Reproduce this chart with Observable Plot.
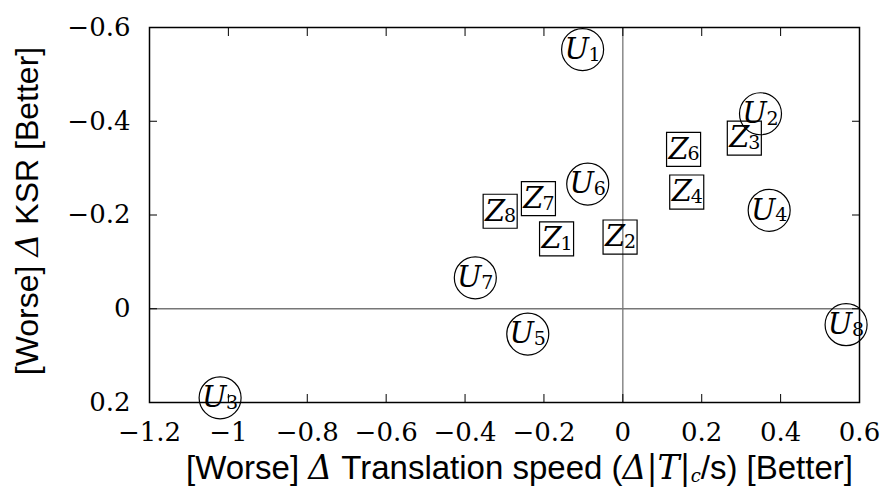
<!DOCTYPE html>
<html>
<head>
<meta charset="utf-8">
<script src="https://cdn.jsdelivr.net/npm/d3@7"></script>
<script src="https://cdn.jsdelivr.net/npm/@observablehq/plot@0.6"></script>
<style>
  html, body { margin: 0; padding: 0; background: #fff; }
  svg { display: block; }
  g[aria-label="x-axis tick label"] text,
  g[aria-label="y-axis tick label"] text {
    font-family: "DejaVu Serif", serif;
    font-size: 26px;
    fill: #000;
  }
</style>
</head>
<body>
<div id="chart"></div>
<script>
// Circled user samples U_i: change in translation speed (x) and change in KSR (y)
const uIndex = [1, 2, 3, 4, 5, 6, 7, 8];
const uSpeed = [-0.102, 0.349, -1.021, 0.371, -0.241, -0.089, -0.374, 0.566];
const uKsr   = [-0.553, -0.416, 0.190, -0.210, 0.054, -0.266, -0.066, 0.034];

// Boxed samples Z_i
const zIndex = [1, 2, 3, 4, 6, 7, 8];
const zSpeed = [-0.168, -0.007, 0.308, 0.162, 0.154, -0.214, -0.311];
const zKsr   = [-0.149, -0.153, -0.364, -0.249, -0.340, -0.235, -0.208];

// Axis ticks
const xTicks = [-1.2, -1, -0.8, -0.6, -0.4, -0.2, 0, 0.2, 0.4, 0.6];
const yTicks = [-0.6, -0.4, -0.2, 0, 0.2];

const uPoints = uIndex.map((n, i) => ({n, x: uSpeed[i], y: uKsr[i]}));
const zPoints = zIndex.map((n, i) => ({n, x: zSpeed[i], y: zKsr[i]}));

const fmt = d => d === 0 ? "0" : (d < 0 ? "\u2212" : "") + String(Math.abs(d));

const serif = "DejaVu Serif";
const sans = "Liberation Sans";

const chart = Plot.plot({
  width: 880,
  height: 487,
  marginLeft: 149,
  marginRight: 21,
  marginTop: 27,
  marginBottom: 85,
  style: {fontFamily: serif, fontSize: "26px", color: "#000"},
  x: {domain: [-1.2, 0.6], label: null},
  y: {domain: [-0.6, 0.2], reverse: true, label: null},
  marks: [
    Plot.ruleX([0], {stroke: "#777", strokeWidth: 1.3}),
    Plot.ruleY([0], {stroke: "#777", strokeWidth: 1.3}),
    Plot.frame({stroke: "#000", strokeWidth: 1.5}),
    // inward ticks on all four sides
    Plot.axisX(xTicks, {anchor: "bottom", tickSize: -8, tickPadding: 28, tickFormat: fmt, label: null}),
    Plot.axisX(xTicks, {anchor: "top", tickSize: -8, tickFormat: () => "", label: null}),
    Plot.axisY(yTicks, {anchor: "left", tickSize: -8, tickPadding: 27, tickFormat: fmt, label: null}),
    Plot.axisY(yTicks, {anchor: "right", tickSize: -8, tickFormat: () => "", label: null}),
    // circled U labels
    Plot.dot(uPoints, {x: "x", y: "y", r: 21, stroke: "#000", strokeWidth: 1.2, fill: "none"}),
    Plot.text(uPoints, {x: "x", y: "y", text: () => "U", dx: -6, fontFamily: serif, fontStyle: "italic", fontSize: 29, fill: "#000"}),
    Plot.text(uPoints, {x: "x", y: "y", text: d => String(d.n), dx: 12, dy: 5, fontFamily: serif, fontSize: 19, fill: "#000"}),
    // boxed Z labels
    Plot.dot(zPoints, {x: "x", y: "y", symbol: "square", r: 19.2, stroke: "#000", strokeWidth: 1.2, fill: "none"}),
    Plot.text(zPoints, {x: "x", y: "y", text: () => "Z", dx: -5, fontFamily: serif, fontStyle: "italic", fontSize: 29, fill: "#000"}),
    Plot.text(zPoints, {x: "x", y: "y", text: d => String(d.n), dx: 10, dy: 5, fontFamily: serif, fontSize: 19, fill: "#000"}),
    // axis titles (rich text filled in below)
    Plot.text(["x-title"], {frameAnchor: "bottom", textAnchor: "middle", lineAnchor: "middle", dx: 15, dy: 66, text: d => d, className: "x-title", fontFamily: sans, fontSize: 33, fill: "#000"}),
    Plot.text(["y-title"], {frameAnchor: "left", textAnchor: "middle", lineAnchor: "middle", dx: -122, dy: -4, rotate: -90, text: d => d, className: "y-title", fontFamily: sans, fontSize: 32, fill: "#000"})
  ]
});

document.getElementById("chart").appendChild(chart);

// Build axis titles with mixed sans / italic math runs
function richTitle(selector, parts) {
  const t = d3.select(chart).select(`g.${selector} text`);
  t.text(null);
  for (const p of parts) {
    const s = t.append("tspan").text(p.t);
    if (p.math) s.attr("font-family", serif).attr("font-style", p.upright ? "normal" : "italic");
    if (p.size) s.attr("font-size", p.size);
    if (p.dy) s.attr("dy", p.dy);
  }
}

richTitle("x-title", [
  {t: "[Worse] "},
  {t: "\u0394", math: true},
  {t: " Translation speed ("},
  {t: "\u0394", math: true},
  {t: "|", math: true, upright: true},
  {t: "T", math: true},
  {t: "|", math: true, upright: true},
  {t: "c", math: true, size: 18, dy: 3},
  {t: "/s) [Better]", dy: -3}
]);

richTitle("y-title", [
  {t: "[Worse] "},
  {t: "\u0394", math: true},
  {t: " KSR [Better]"}
]);
</script>
</body>
</html>
